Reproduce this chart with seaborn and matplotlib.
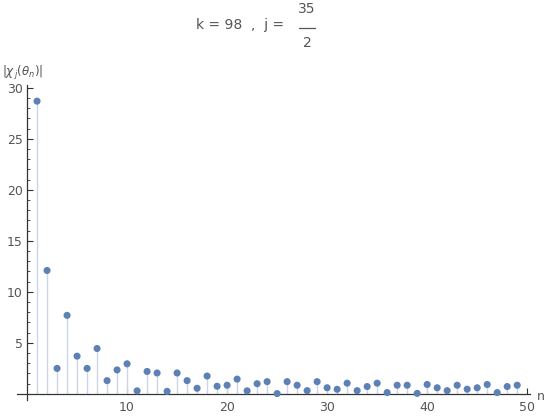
import numpy as np
import pandas as pd
import matplotlib
matplotlib.use("Agg")
import matplotlib.pyplot as plt
import seaborn as sns
from matplotlib.ticker import MultipleLocator

## Data
n_vals = list(range(1, 50))
chi_abs = [28.7, 12.1, 2.5, 7.7, 3.7, 2.5, 4.45, 1.3, 2.35, 2.95,
           0.3, 2.2, 2.05, 0.25, 2.05, 1.3, 0.55, 1.75, 0.75, 0.85,
           1.45, 0.3, 1.0, 1.2, 0.03, 1.2, 0.85, 0.32, 1.2, 0.6,
           0.45, 1.05, 0.32, 0.72, 1.05, 0.13, 0.85, 0.85, 0.05, 0.92,
           0.6, 0.32, 0.85, 0.46, 0.6, 0.92, 0.13, 0.72, 0.85]
x_major = [10, 20, 30, 40, 50]
y_major = [5, 10, 15, 20, 25, 30]

df = pd.DataFrame({"n": n_vals, "chi": chi_abs})

sns.set_style("white")
grey = "#555555"
point_col = "#5e81b5"
stem_col = "#cdd6e6"

fig = plt.figure(figsize=(5.5, 4.2), dpi=100)
ax = fig.add_axes([0.031, 0.0476, 0.933, 0.7504])

##Stems + points
ax.vlines(df["n"], 0, df["chi"], color=stem_col, lw=1.0, zorder=1)
sns.scatterplot(data=df, x="n", y="chi", ax=ax, color=point_col, s=26,
                edgecolor="none", zorder=3)

ax.set_xlim(-1, 50.3)
ax.set_ylim(-0.6, 30.3)

##Mathematica style axes through origin
for side in ["top", "right"]:
    ax.spines[side].set_visible(False)
ax.spines["left"].set_position(("data", 0))
ax.spines["bottom"].set_position(("data", 0))
for side in ["left", "bottom"]:
    ax.spines[side].set_color("#333333")
    ax.spines[side].set_linewidth(0.9)

ax.set_xticks(x_major)
ax.set_yticks(y_major)
ax.xaxis.set_minor_locator(MultipleLocator(2))
ax.yaxis.set_minor_locator(MultipleLocator(1))
ax.tick_params(axis="both", which="major", direction="in", length=4,
               width=0.8, color="#333333", labelcolor=grey, labelsize=9)
ax.tick_params(axis="both", which="minor", direction="in", length=2.5,
               width=0.6, color="#333333")
ax.tick_params(axis="x", bottom=True, which="both", pad=5)
ax.tick_params(axis="y", left=True, which="both", pad=3)
ax.set_xlabel("")
ax.set_ylabel("")

##Axis labels
fig.text(0.004, 0.826, r"$|\chi_{\,j}(\theta_n)|$", color=grey, fontsize=8.5,
         ha="left", va="center")
fig.text(0.977, 0.055, "n", color=grey, fontsize=9, ha="left", va="center")

##Title with fraction
fig.text(0.516, 0.94, "k = 98  ,  j =", color=grey, fontsize=10,
         ha="right", va="center")
fig.text(0.558, 0.978, "35", color=grey, fontsize=10, ha="center", va="center")
fig.text(0.558, 0.897, "2", color=grey, fontsize=10, ha="center", va="center")
fig.add_artist(plt.Line2D([0.544, 0.572], [0.934, 0.934], color=grey, lw=0.9))

plt.savefig("out.png", dpi=100)
